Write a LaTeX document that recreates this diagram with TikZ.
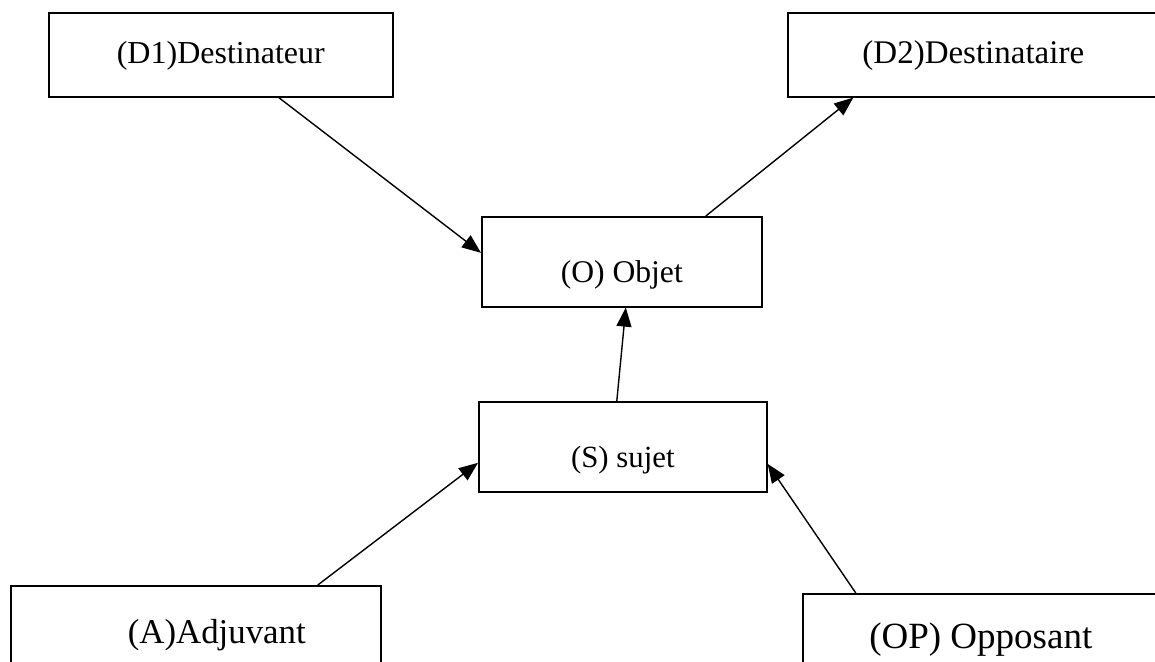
\documentclass[tikz,border=0pt]{standalone}
\usepackage{fontspec}
\setmainfont{Liberation Serif}
\usepackage{tikz}
\usetikzlibrary{arrows.meta}
\tikzset{
	actant/.style 2 args={draw,rectangle,inner sep=0pt,line width=0.8pt,anchor=north west,text height=#1,text depth=#2},
	fleche/.style={-{Triangle[length=9.5pt,width=7.5pt]},line width=0.7pt}
}

\begin{document}
\begin{tikzpicture}[x=0.5pt,y=-0.5pt]
						\useasboundingbox (0,0) rectangle (1155,661);
						\node [actant={25.5pt}{16.5pt},minimum width=172pt,font=\fontsize{16}{19}\selectfont] (D1) at (48,12) {(D1)Destinateur};
						\node [actant={25.5pt}{16.5pt},minimum width=185.5pt,font=\fontsize{16.5}{19}\selectfont] (D2) at (787,12) {(D2)Destinataire};
						\node [actant={33pt}{12pt},minimum width=140pt,font=\fontsize{15.8}{19}\selectfont] (O) at (481,216) {(O) Objet};
						\node [actant={33pt}{12pt},minimum width=144pt,font=\fontsize{15.4}{19}\selectfont] (S) at (478,401) {(S) sujet};
						\node [actant={29pt}{15pt},minimum width=185pt,font=\fontsize{17.4}{21}\selectfont] (A) at (10,585) {\hspace*{21pt}(A)Adjuvant};
						\node [actant={27.5pt}{15pt},minimum width=178pt,font=\fontsize{18.5}{21}\selectfont] (OP) at (802,593) {(OP) Opposant};
						
						\draw [fleche] ([xshift=29pt]D1.south) -- ([yshift=4.5pt]O.west);
						\draw [fleche] ([xshift=42pt]O.north) -- ([xshift=-60pt]D2.south);
						\draw [fleche] ([xshift=-3pt]S.north) -- ([xshift=2pt]O.south);
						\draw [fleche] ([xshift=61pt]A.north) -- ([yshift=-8pt]S.west);
						\draw [fleche] ([xshift=-62.5pt]OP.north) -- ([yshift=-8.5pt]S.east);
\end{tikzpicture}
\end{document}
